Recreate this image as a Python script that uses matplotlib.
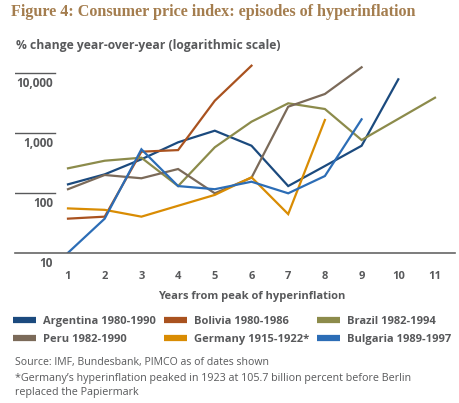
import matplotlib
matplotlib.use('Agg')
import matplotlib.pyplot as plt
from matplotlib.lines import Line2D

# ==============================================
# Data: CPI % change year-over-year, by years from peak
# ==============================================
years = [1, 2, 3, 4, 5, 6, 7, 8, 9, 10, 11]

argentina = [141, 207, 369, 708, 1105, 621, 132, 285, 620, 7940]
bolivia = [37.8, 40.8, 494, 525, 3490, 13400]
brazil = [261, 349, 392, 132, 585, 1561, 3162, 2541, 773, 1740, 3920]
peru = [117, 202, 178, 254, 100, 182, 2775, 4520, 12600]
germany = [56, 53, 40.8, 62, 94, 185, 45, 1667]
bulgaria = [10.2, 37.8, 541, 132, 117, 156, 100, 194, 1711]

series_names = ['Argentina 1980-1990', 'Bolivia 1980-1986', 'Brazil 1982-1994',
                'Peru 1982-1990', 'Germany 1915-1922*', 'Bulgaria 1989-1997']
series_values = [argentina, bolivia, brazil, peru, germany, bulgaria]
series_colors = ['#1b4a7e', '#a9521f', '#8c8b4b', '#7b6a59', '#d98c03', '#2c6db6']

y_ticks = [10, 100, 1000, 10000]
y_tick_labels = ['10', '100', '1,000', '10,000']

grey = '#58595b'
font = ['Open Sans', 'DejaVu Sans']

# ==============================================
# Figure
# ==============================================
fig = plt.figure(figsize=(4.6, 4.03), dpi=100)
ax = fig.add_axes([15 / 460, 1 - 253.3 / 403, 440 / 460, 192 / 403])

for name, vals, col in zip(series_names, series_values, series_colors):
    ax.plot(years[:len(vals)], vals, color=col, lw=1.6, label=name,
            solid_joinstyle='miter')

ax.set_yscale('log')
ax.set_ylim(10, 10 ** 4.2)
ax.set_xlim(-0.444, 11.545)

# short grid marks at the left + labels under them
for v, lab in zip(y_ticks, y_tick_labels):
    if v != 10:
        ax.axhline(v, xmin=0, xmax=40 / 440, color=grey, lw=1.0)
    ax.annotate(lab, xy=(38 / 440, v), xycoords=('axes fraction', 'data'),
                xytext=(0, -3), textcoords='offset points', ha='right', va='top',
                fontsize=8.5, fontweight='bold', color=grey, family=font)

ax.set_yticks([])
ax.minorticks_off()
ax.set_xticks(years)
ax.tick_params(axis='x', length=0, pad=13, labelsize=8, labelcolor=grey)
for t in ax.get_xticklabels():
    t.set_fontweight('bold')
    t.set_family(font)

for s in ['top', 'right', 'left']:
    ax.spines[s].set_visible(False)
ax.spines['bottom'].set_color('#666666')
ax.spines['bottom'].set_linewidth(1.2)
ax.patch.set_alpha(0)

# ==============================================
# Texts
# ==============================================
fig.text(11 / 460, 1 - 12 / 403, 'Figure 4: Consumer price index: episodes of hyperinflation',
         ha='left', va='center', fontsize=11.6, fontweight='bold', color='#a47d4e',
         family=['Liberation Serif', 'DejaVu Serif'])
fig.text(16 / 460, 1 - 46 / 403, '% change year-over-year (logarithmic scale)',
         ha='left', va='center', fontsize=8.7, fontweight='bold', color=grey, family=font)
fig.text(252 / 460, 1 - 296 / 403, 'Years from peak of hyperinflation',
         ha='center', va='center', fontsize=8, fontweight='bold', color=grey, family=font)

# legend: row-wise reading order in 3 columns
order = [0, 3, 1, 4, 2, 5]
handles = [Line2D([0], [0], color=series_colors[i], lw=4.5, solid_capstyle='butt') for i in order]
labels = [series_names[i] for i in order]
leg = fig.legend(handles, labels, loc='upper left', bbox_to_anchor=(13 / 460, 1 - 316 / 403),
                 ncol=3, frameon=False, handlelength=2.1, handletextpad=0.6,
                 columnspacing=0.7, labelspacing=0.65, borderpad=0, borderaxespad=0,
                 prop={'family': font, 'weight': 'bold', 'size': 8})
for t in leg.get_texts():
    t.set_color(grey)

fig.text(15 / 460, 1 - 362 / 403, 'Source: IMF, Bundesbank, PIMCO as of dates shown',
         ha='left', va='center', fontsize=7.6, color=grey, family=font)
fig.text(15 / 460, 1 - 379 / 403,
         '*Germany\u2019s hyperinflation peaked in 1923 at 105.7 billion percent before Berlin',
         ha='left', va='center', fontsize=7.75, color=grey, family=font)
fig.text(15 / 460, 1 - 393 / 403, 'replaced the Papiermark',
         ha='left', va='center', fontsize=7.75, color=grey, family=font)

fig.savefig('out.png', dpi=100)
